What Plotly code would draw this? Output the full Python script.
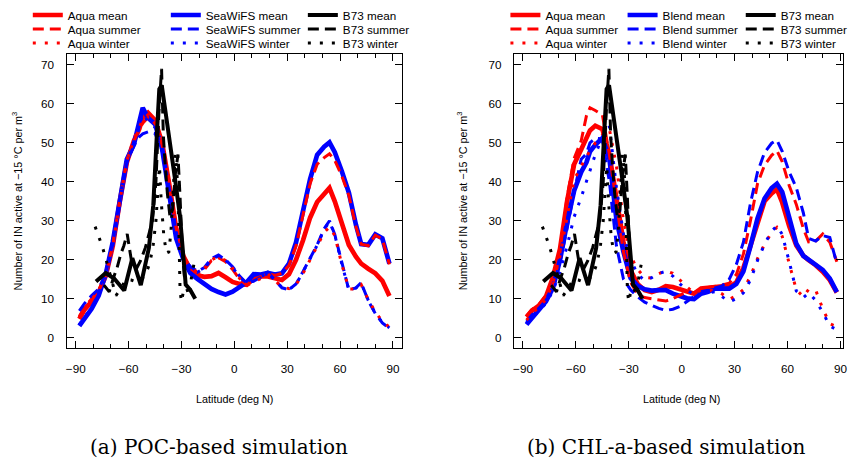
import plotly.graph_objects as go

W, H = 853, 459
SANS = "Liberation Sans"

# common latitude grid of the model curves (deg N)
LAT = [-88, -85, -81, -77, -73, -69, -65, -61, -57, -54, -52, -49, -45, -41, -37, -33,
       -29, -25, -21, -17, -13, -9, -5, -1, 3, 7, 11, 15, 19, 23, 27, 31, 35, 39, 43,
       47, 51, 54, 57, 61, 65, 69, 72, 76, 80, 84, 88]

# (a) POC-based simulation
A_AQUA_MEAN = [4.8, 7.2, 9.3, 11.6, 15.8, 23.5, 35.0, 45.0, 50.5, 53.5, 56.5, 57.7, 55.8, 50.0, 39.5, 28.0,
               21.0, 17.5, 16.0, 15.6, 15.8, 16.6, 15.5, 14.3, 13.8, 13.6, 15.2, 15.7, 15.7, 15.4, 14.8, 16.3,
               20.0, 25.0, 30.8, 34.8, 37.0, 38.4, 35.0, 29.6, 23.8, 20.8, 19.0, 17.7, 16.5, 14.6, 10.7]
A_AQUA_SUM = [5.5, 7.8, 10.0, 12.2, 16.0, 24.0, 35.5, 45.5, 50.5, 53.5, 55.0, 56.5, 55.0, 49.5, 39.0, 28.0,
              21.0, 17.8, 16.5, 17.5, 19.8, 20.5, 19.5, 17.5, 15.0, 13.5, 15.0, 15.8, 16.4, 16.0, 16.5, 18.5,
              23.5, 31.5, 39.5, 44.5, 46.2, 47.2, 45.5, 41.5, 36.5, 28.5, 24.0, 23.6, 26.3, 25.3, 18.8]
A_AQUA_WIN = [5.2, 7.6, 9.8, 12.0, 16.0, 23.5, 35.0, 45.5, 51.0, 54.0, 56.0, 57.2, 55.8, 50.0, 40.0, 28.5,
              20.8, 18.0, 16.8, 17.8, 20.0, 20.8, 19.8, 17.8, 15.2, 13.4, 14.2, 15.2, 16.4, 14.6, 13.0, 12.6,
              13.6, 16.5, 20.2, 23.5, 27.0, 28.4, 26.2, 18.8, 12.5, 12.5, 13.6, 9.8, 6.6, 4.2, 2.7]
A_SEA_MEAN = [3.0, 5.0, 7.4, 10.8, 16.3, 24.5, 36.0, 45.8, 49.6, 54.8, 59.0, 56.4, 54.8, 48.5, 37.5, 25.5,
              20.2, 16.6, 15.1, 13.8, 12.5, 11.7, 11.1, 11.8, 12.9, 14.2, 16.3, 16.2, 16.6, 16.2, 16.5, 19.0,
              24.4, 32.7, 40.7, 46.9, 49.0, 50.1, 47.6, 42.7, 37.2, 29.0, 24.0, 23.8, 26.5, 25.5, 19.0]
A_SEA_SUM = [6.9, 8.8, 10.8, 12.5, 16.5, 24.5, 35.5, 45.0, 49.3, 51.5, 52.3, 52.8, 52.4, 48.0, 38.5, 27.0,
             20.5, 18.3, 17.0, 18.0, 20.3, 21.2, 20.0, 18.2, 15.8, 14.0, 14.5, 15.5, 16.8, 14.8, 12.8, 12.3,
             13.8, 17.0, 20.5, 23.8, 28.0, 30.0, 26.5, 19.0, 12.2, 12.8, 14.1, 9.5, 6.2, 3.8, 2.4]
A_SEA_WIN = [3.3, 5.3, 7.6, 11.0, 16.4, 24.3, 35.8, 45.6, 49.5, 53.8, 57.5, 55.5, 54.0, 48.2, 37.8, 25.8,
             20.3, 18.0, 16.8, 17.8, 20.1, 21.0, 19.9, 18.0, 15.6, 13.9, 14.6, 15.6, 16.7, 14.7, 12.9, 12.4,
             13.7, 16.9, 20.4, 23.7, 27.8, 29.8, 26.4, 18.9, 12.3, 12.7, 14.0, 9.6, 6.3, 3.9, 2.5]

# (b) CHL-a-based simulation
B_AQUA_MEAN = [5.3, 6.9, 8.2, 10.5, 15.5, 22.8, 35.0, 44.5, 48.3, 51.0, 53.2, 54.4, 53.5, 47.0, 35.2, 24.5,
               17.3, 13.8, 12.2, 11.7, 12.3, 13.2, 13.0, 12.4, 11.6, 11.3, 12.6, 12.8, 13.3, 13.2, 13.0, 14.2,
               17.9, 23.6, 30.0, 35.0, 37.0, 38.1, 34.7, 28.6, 23.7, 21.0, 19.9, 18.6, 16.9, 14.8, 11.6]
B_AQUA_SUM = [5.5, 7.2, 8.5, 10.8, 13.2, 22.0, 36.0, 46.0, 50.5, 57.0, 59.0, 58.3, 57.2, 47.0, 35.0, 22.0,
              14.2, 11.1, 10.3, 10.0, 9.8, 9.4, 10.0, 11.0, 11.8, 11.5, 12.5, 12.9, 13.2, 13.5, 14.0, 16.2,
              21.5, 30.0, 39.5, 44.3, 46.8, 48.0, 45.2, 39.0, 34.2, 28.0, 24.6, 24.8, 26.6, 24.5, 19.5]
B_AQUA_WIN = [4.5, 6.2, 7.8, 9.8, 14.0, 21.0, 31.0, 40.5, 44.0, 46.5, 48.0, 50.0, 52.0, 53.5, 44.0, 30.0,
              21.0, 17.5, 15.5, 15.3, 16.4, 17.2, 16.5, 14.8, 13.0, 11.5, 12.0, 12.0, 12.2, 11.2, 9.8, 10.8,
              12.3, 15.8, 20.3, 24.0, 27.0, 28.3, 26.0, 19.0, 12.3, 10.5, 12.4, 12.2, 7.4, 3.6, 2.8]
B_BLEND_MEAN = [3.4, 5.1, 7.3, 9.3, 12.8, 20.0, 29.5, 37.7, 42.5, 45.0, 47.8, 49.5, 51.2, 46.0, 30.3, 22.0,
                15.3, 13.3, 12.4, 12.1, 12.2, 12.2, 11.3, 10.6, 10.1, 9.9, 11.3, 11.8, 12.6, 12.6, 12.6, 13.8,
                17.0, 23.5, 30.6, 35.7, 38.4, 39.5, 37.4, 30.8, 24.1, 21.0, 20.0, 18.8, 17.4, 15.2, 11.7]
B_BLEND_SUM = [4.0, 5.8, 7.5, 9.5, 13.0, 19.5, 28.0, 37.5, 45.8, 47.2, 50.0, 51.2, 51.0, 40.0, 23.5, 15.0,
               12.3, 10.5, 9.1, 8.2, 7.5, 7.0, 7.3, 8.0, 9.3, 10.6, 11.8, 12.2, 12.8, 13.3, 15.0, 18.8,
               24.5, 34.5, 42.5, 47.5, 49.9, 50.7, 47.8, 42.5, 38.5, 32.0, 25.5, 24.8, 26.2, 25.7, 19.0]
B_BLEND_WIN = [3.5, 5.0, 6.8, 8.8, 12.0, 17.0, 23.5, 31.0, 36.0, 40.0, 43.0, 47.0, 51.5, 54.2, 38.5, 26.5,
               20.0, 16.3, 14.6, 15.4, 16.5, 17.0, 15.8, 13.8, 12.2, 11.0, 11.4, 11.5, 11.8, 10.6, 9.2, 10.0,
               11.5, 14.8, 19.8, 24.0, 27.3, 28.7, 26.5, 19.5, 12.0, 10.3, 11.5, 9.6, 6.5, 3.0, 2.0]

# B73 observations (same in both panels)
B73_MEAN_LAT = [-78.5, -73.0, -68.2, -62.5, -57.9, -53.1, -48.5, -46.0, -44.0, -42.6, -41.2, -39.2, -36.4,
                -33.6, -30.8, -28.9, -27.6, -25.1, -22.2]
B73_MEAN = [14.4, 16.6, 15.2, 12.1, 20.4, 13.5, 23.0, 34.0, 52.0, 63.8, 64.8, 58.5, 50.6,
            40.5, 31.0, 21.0, 13.6, 12.3, 10.0]
B73_SUM_LAT = [-74.0, -71.0, -68.5, -66.5, -64.5, -62.7, -60.8, -58.5, -55.2, -53.3, -50.5, -48.6, -46.5,
               -44.5, -42.8, -41.3, -40.3, -39.2, -38.0, -36.5, -35.0, -33.5, -32.0, -30.8, -29.5, -28.0]
B73_SUM = [13.5, 11.8, 15.5, 18.0, 21.4, 23.6, 26.6, 20.0, 18.0, 19.7, 23.1, 26.6, 30.0,
           40.0, 58.0, 69.0, 52.0, 44.0, 37.0, 31.0, 33.0, 42.0, 47.0, 36.0, 22.0, 14.0]
B73_WIN_LAT = [-79.0, -77.0, -75.0, -73.0, -71.0, -69.0, -67.2, -64.5, -61.5, -58.5, -55.5, -52.5, -50.3,
               -48.0, -46.0, -44.5, -43.5, -42.5, -41.5, -40.0, -38.5, -37.2, -36.0, -34.8, -33.6, -32.6,
               -31.6, -30.8, -30.0, -29.0, -27.3, -25.6, -24.2, -23.0]
B73_WIN = [28.5, 26.0, 23.5, 20.3, 16.8, 13.7, 10.8, 12.5, 15.0, 14.8, 14.3, 15.0, 16.4,
           19.0, 24.0, 30.0, 38.0, 44.0, 35.0, 26.0, 21.7, 22.0, 27.0, 38.0, 47.0, 43.0,
           30.0, 12.0, 9.2, 11.6, 12.9, 10.7, 16.0, 18.7]

X_TICKS = [-90, -60, -30, 0, 30, 60, 90]
Y_TICKS = [0, 10, 20, 30, 40, 50, 60, 70]

RED, BLUE, BLACK = "#ff0000", "#0000ff", "#000000"
STYLE = {
    "mean": dict(width=4.7),
    "summer": dict(width=3, dash="11px,6px"),
    "winter": dict(width=3, dash="3px,9px"),
}

fig = go.Figure()
legends = {}


def add_line(x, y, name, color, kind, panel, lx, ly):
    assert len(x) == len(y), name
    key = "legend" if not legends else f"legend{len(legends) + 1}"
    legends[key] = dict(
        x=lx / W, y=1 - ly / H, xanchor="left", yanchor="middle",
        bgcolor="rgba(0,0,0,0)", borderwidth=0, itemwidth=30,
        font=dict(family=SANS, size=11.7, color="black"),
    )
    w = STYLE[kind]["width"] - (0.7 if color == BLACK and kind == "mean" else 0)
    fig.add_trace(go.Scatter(
        x=x, y=y, mode="lines", name=name,
        line=dict(color=color, width=w, dash=STYLE[kind].get("dash", "solid")),
        xaxis="x" if panel == 1 else "x2", yaxis="y" if panel == 1 else "y2",
        legend=key, hoverinfo="skip",
    ))


rows = [15, 29, 43]
panels = [
    (1, [28, 167, 305], "SeaWiFS",
     {"Aqua": (A_AQUA_MEAN, A_AQUA_SUM, A_AQUA_WIN), "other": (A_SEA_MEAN, A_SEA_SUM, A_SEA_WIN)}),
    (2, [509, 627, 746], "Blend",
     {"Aqua": (B_AQUA_MEAN, B_AQUA_SUM, B_AQUA_WIN), "other": (B_BLEND_MEAN, B_BLEND_SUM, B_BLEND_WIN)}),
]
kinds = ["mean", "summer", "winter"]
for panel, cols, other, data in panels:
    aq, ot = data["Aqua"], data["other"]
    for i, k in enumerate(kinds):
        add_line(LAT, aq[i], f"Aqua {k}", RED, k, panel, cols[0], rows[i])
        add_line(LAT, ot[i], f"{other} {k}", BLUE, k, panel, cols[1], rows[i])
    for i, (bx, by) in enumerate([(B73_MEAN_LAT, B73_MEAN), (B73_SUM_LAT, B73_SUM), (B73_WIN_LAT, B73_WIN)]):
        add_line(bx, by, f"B73 {kinds[i]}", BLACK, kinds[i], panel, cols[2], rows[i])

axis_style = dict(
    showline=True, linecolor="black", linewidth=1.3, mirror="ticks",
    ticks="inside", ticklen=7, tickwidth=1.2, tickcolor="black",
    showgrid=False, zeroline=False,
    tickfont=dict(family=SANS, size=11.7, color="black"),
)
xa = dict(axis_style, tickvals=X_TICKS, ticklabelstandoff=10,
          minor=dict(ticks="inside", ticklen=4, tickwidth=1.2, tickcolor="black", dtick=10, tick0=0))
ya = dict(axis_style, tickvals=Y_TICKS, range=[-2.65, 72.8], ticklabelstandoff=9)

box_b, box_t = 348, 54
ydom = [(H - box_b) / H, (H - box_t) / H]

fig.update_layout(
    width=W, height=H,
    margin=dict(l=0, r=0, t=0, b=0),
    paper_bgcolor="white", plot_bgcolor="white",
    showlegend=True,
    xaxis=dict(xa, domain=[67 / W, 405 / W], range=[-95.24, 95.24], anchor="y"),
    yaxis=dict(ya, domain=ydom, anchor="x"),
    xaxis2=dict(xa, domain=[517.7 / W, 849 / W], range=[-95.07, 91.5], anchor="y2"),
    yaxis2=dict(ya, domain=ydom, anchor="x2"),
    **legends,
)

ytitle = "Number of IN active at \u221215 \u00b0C per m<sup>3</sup>"
notes = [
    dict(x=236 / W, y=1 - 399 / H, text="Latitude (deg N)", font=dict(family=SANS, size=10.8)),
    dict(x=686.7 / W, y=1 - 399 / H, text="Latitude (deg N)", font=dict(family=SANS, size=10.8)),
    dict(x=17.5 / W, y=1 - 201 / H, text=ytitle, textangle=-90, font=dict(family=SANS, size=10.8)),
    dict(x=465.5 / W, y=1 - 201 / H, text=ytitle, textangle=-90, font=dict(family=SANS, size=10.8)),
    dict(x=220.8 / W, y=1 - 447 / H, text="(a) POC-based simulation", font=dict(family="DejaVu Serif", size=20)),
    dict(x=671.7 / W, y=1 - 447 / H, text="(b) CHL-a-based simulation", font=dict(family="DejaVu Serif", size=20)),
]
for n in notes:
    n["font"]["color"] = "black"
    fig.add_annotation(xref="paper", yref="paper", showarrow=False, xanchor="center", yanchor="middle", **n)

# the page's default 8px body margin would push the figure off the window
fig.write_html(
    "out.html",
    config={"displayModeBar": False},
    post_script="document.body.style.margin='0';document.body.style.overflow='hidden';",
)
